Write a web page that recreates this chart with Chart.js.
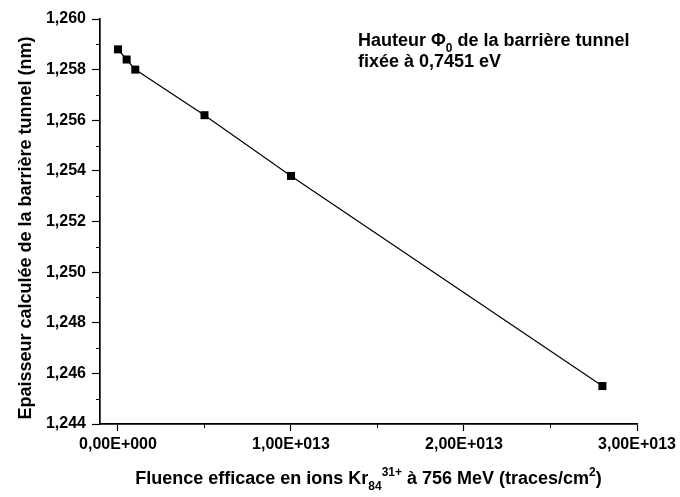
<!DOCTYPE html>
<html>
<head>
<meta charset="utf-8">
<script src="https://cdn.jsdelivr.net/npm/chart.js@4"></script>
<style>
  html, body { margin: 0; padding: 0; background: #fff; }
  #wrap { width: 680px; height: 497px; }
</style>
</head>
<body>
<div id="wrap"><canvas id="c" width="680" height="497"></canvas></div>
<script>
// Fluence (traces/cm2) and computed tunnel-barrier thickness (nm)
const fluence   = [0, 5.0e11, 1.0e12, 5.0e12, 1.0e13, 2.8e13];
const thickness = [1.2588, 1.2584, 1.2580, 1.2562, 1.2538, 1.2455];

const xTickValues  = [0, 1e13, 2e13, 3e13];
const xMinorValues = [0.5e13, 1.5e13, 2.5e13];
const yTickValues  = [1.244, 1.246, 1.248, 1.250, 1.252, 1.254, 1.256, 1.258, 1.260];
const yMinorValues = [1.245, 1.247, 1.249, 1.251, 1.253, 1.255, 1.257, 1.259];

const FONT = '"Liberation Sans", Arial, sans-serif';

function fmtSci(v) {
  if (v === 0) return '0,00E+000';
  const e = Math.floor(Math.log10(Math.abs(v)));
  const m = v / Math.pow(10, e);
  return m.toFixed(2).replace('.', ',') + 'E+' + String(e).padStart(3, '0');
}

// Text runs with sub/superscripts, drawn left to right
function partSize(p, size) { return (p.sub || p.sup) ? Math.round(size * 0.65) : size; }
function drawRich(ctx, parts, x, y, size) {
  let cx = x;
  for (const p of parts) {
    ctx.font = 'bold ' + partSize(p, size) + 'px ' + FONT;
    const dy = p.sub ? size * 0.33 : (p.sup ? -size * 0.45 : 0);
    ctx.fillText(p.t, cx, y + dy);
    cx += ctx.measureText(p.t).width;
  }
  return cx - x;
}
function richWidth(ctx, parts, size) {
  let w = 0;
  for (const p of parts) {
    ctx.font = 'bold ' + partSize(p, size) + 'px ' + FONT;
    w += ctx.measureText(p.t).width;
  }
  return w;
}

const xTitle = [
  { t: 'Fluence efficace en ions Kr' }, { t: '84', sub: true }, { t: '31+', sup: true },
  { t: ' à 756 MeV (traces/cm' }, { t: '2', sup: true }, { t: ')' }
];
const yTitle = 'Epaisseur calculée de la barrière tunnel (nm)';
const note1 = [{ t: 'Hauteur \u03A6' }, { t: '0', sub: true }, { t: ' de la barrière tunnel' }];
const note2 = [{ t: 'fixée à 0,7451 eV' }];

const decor = {
  id: 'decor',
  afterDraw(chart) {
    const ctx = chart.ctx;
    const xs = chart.scales.x, ys = chart.scales.y;
    const area = chart.chartArea;
    ctx.save();
    ctx.strokeStyle = '#000';
    ctx.lineWidth = 1;
    // minor ticks, pointing outward
    ctx.beginPath();
    for (const v of xMinorValues) {
      const px = Math.round(xs.getPixelForValue(v)) + 0.5;
      ctx.moveTo(px, area.bottom); ctx.lineTo(px, area.bottom + 4);
    }
    for (const v of yMinorValues) {
      const py = Math.round(ys.getPixelForValue(v)) + 0.5;
      ctx.moveTo(area.left, py); ctx.lineTo(area.left - 4, py);
    }
    ctx.stroke();

    ctx.fillStyle = '#000';
    ctx.textBaseline = 'alphabetic';
    ctx.textAlign = 'left';
    const size = 18;
    // x axis title, centred on the axis
    const w = richWidth(ctx, xTitle, size);
    drawRich(ctx, xTitle, (area.left + area.right) / 2 - w / 2, 484, size);
    // y axis title, rotated
    ctx.save();
    ctx.translate(31, 228);
    ctx.rotate(-Math.PI / 2);
    ctx.textAlign = 'center';
    ctx.font = 'bold ' + size + 'px ' + FONT;
    ctx.fillText(yTitle, 0, 0);
    ctx.restore();
    // note on the barrier height
    drawRich(ctx, note1, 358, 46, 18);
    drawRich(ctx, note2, 358, 67, 18);
    ctx.restore();
  }
};

new Chart(document.getElementById('c'), {
  type: 'line',
  data: {
    datasets: [{
      data: fluence.map((x, i) => ({ x, y: thickness[i] })),
      borderColor: '#000',
      borderWidth: 1.2,
      backgroundColor: '#000',
      pointStyle: 'rect',
      pointRadius: 5.66,
      pointHoverRadius: 5.66,
      pointBorderWidth: 0,
      tension: 0,
      clip: false
    }]
  },
  options: {
    responsive: false,
    animation: false,
    events: [],
    layout: { padding: { top: 19, right: 43, left: 0, bottom: 0 } },
    plugins: { legend: { display: false }, tooltip: { enabled: false } },
    scales: {
      x: {
        type: 'linear',
        min: -1.04e12,
        max: 3e13,
        afterBuildTicks(scale) { scale.ticks = xTickValues.map(v => ({ value: v })); },
        afterFit(scale) { scale.height = 73; },
        border: { display: true, color: '#000', width: 1.7 },
        grid: { display: true, drawOnChartArea: false, tickLength: 7, color: '#000', tickColor: '#000', tickWidth: 1.2 },
        ticks: {
          color: '#000',
          font: { family: FONT, size: 16, weight: 'bold' },
          padding: 4,
          maxRotation: 0,
          autoSkip: false,
          callback: v => fmtSci(v)
        }
      },
      y: {
        type: 'linear',
        min: 1.244,
        max: 1.260,
        afterBuildTicks(scale) { scale.ticks = yTickValues.map(v => ({ value: v })); },
        afterFit(scale) { scale.width = 100; },
        border: { display: true, color: '#000', width: 1.7 },
        grid: { display: true, drawOnChartArea: false, tickLength: 8, color: '#000', tickColor: '#000', tickWidth: 1.2 },
        ticks: {
          color: '#000',
          font: { family: FONT, size: 16, weight: 'bold' },
          padding: 6,
          autoSkip: false,
          callback: v => v.toFixed(3).replace('.', ',')
        }
      }
    }
  },
  plugins: [decor]
});
</script>
</body>
</html>
